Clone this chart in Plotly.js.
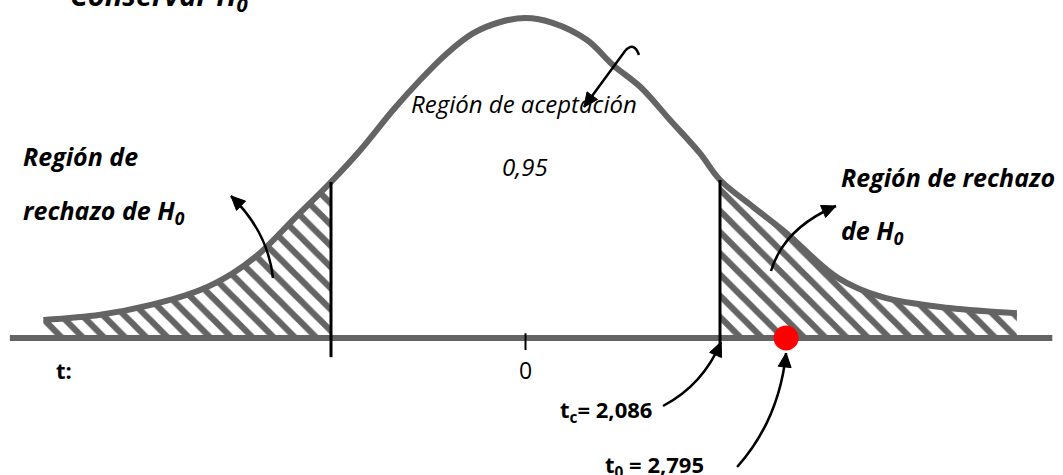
<!DOCTYPE html>
<html>
<head>
<meta charset="utf-8">
<script src="https://cdn.plot.ly/plotly-3.0.1.min.js"></script>
<style>html,body{margin:0;padding:0;background:#fff;}#chart{width:1063px;height:475px;}</style>
</head>
<body>
<div id="chart"></div>
<script>
// ---- data ----
const T_C = 2.086;          // critical value
const T_0 = 2.795;          // observed statistic
const CONF = "0,95";
// sketched density curve (t, height)
const CURVE_T = [-5.17,-4.56,-4.03,-3.49,-3.14,-2.85,-2.49,-2.086,-1.77,-1.42,-1.13,-0.84,-0.56,-0.27,0,0.29,0.66,0.94,1.23,1.55,1.87,2.086,2.44,2.80,3.34,3.83,4.55,5.27];
const CURVE_D = [0.0225,0.029,0.041,0.060,0.081,0.106,0.148,0.195,0.235,0.285,0.3225,0.356,0.381,0.395,0.400,0.394,0.3725,0.341,0.314,0.2725,0.231,0.1975,0.164,0.131,0.076,0.051,0.0375,0.031];
const AXIS_T = [-5.53, 5.65];
const AXIS_D = [0, 0];
const LINE_BOTTOM = -0.024;
const TICK_D = [0.006, -0.015];

// ---- styles ----
const GRAY = '#646464';
const W = 1063, H = 475;

const leftIdx = CURVE_T.map((t,i)=>i).filter(i => CURVE_T[i] <= -T_C);
const rightIdx = CURVE_T.map((t,i)=>i).filter(i => CURVE_T[i] >= T_C);
const dAt = t => CURVE_D[CURVE_T.indexOf(t)];

const hatch = {shape:'\\', fgcolor:GRAY, bgcolor:'white', size:15, solidity:0.42};

const traces = [
  {x: leftIdx.map(i=>CURVE_T[i]), y: leftIdx.map(i=>CURVE_D[i]), type:'scatter', mode:'lines',
   line:{width:0, shape:'spline'}, fill:'tozeroy', fillcolor:'white', fillpattern:hatch, hoverinfo:'skip'},
  {x: rightIdx.map(i=>CURVE_T[i]), y: rightIdx.map(i=>CURVE_D[i]), type:'scatter', mode:'lines',
   line:{width:0, shape:'spline'}, fill:'tozeroy', fillcolor:'white', fillpattern:hatch, hoverinfo:'skip'},
  {x: AXIS_T, y: AXIS_D, type:'scatter', mode:'lines', line:{color:GRAY, width:6}},
  {x: CURVE_T, y: CURVE_D, type:'scatter', mode:'lines', line:{color:GRAY, width:6, shape:'spline', smoothing:1}},
  {x: [-T_C,-T_C], y: [dAt(-T_C), LINE_BOTTOM], type:'scatter', mode:'lines', line:{color:'black', width:3}},
  {x: [T_C,T_C], y: [dAt(T_C), LINE_BOTTOM], type:'scatter', mode:'lines', line:{color:'black', width:3}},
  {x: [0,0], y: TICK_D, type:'scatter', mode:'lines', line:{color:'black', width:2}},
  {x: [T_0], y: [0], type:'scatter', mode:'markers', marker:{color:'#ff0000', size:25}}
];

// ---- arrows (picture pixels, converted either to paper or to pixel offsets from a data anchor) ----
function makeConv(anchor){
  if(!anchor) return (px,py)=>[(px/W).toFixed(5), (1-py/H).toFixed(5)];
  return (px,py)=>[(px-anchor.px).toFixed(2), (anchor.py-py).toFixed(2)];
}
function arrow(segs, anchor){
  const conv = makeConv(anchor);
  let d = '';
  segs.forEach(s=>{
    d += s[0];
    for(let k=1;k<s.length;k+=2){ const c = conv(s[k], s[k+1]); d += ' ' + c[0] + ',' + c[1] + ' '; }
  });
  const last = segs[segs.length-1];
  const prev = segs[segs.length-2];
  const tip = [last[last.length-2], last[last.length-1]];
  const from = last.length >= 5 ? [last[last.length-4], last[last.length-3]] : [prev[prev.length-2], prev[prev.length-1]];
  let ux = tip[0]-from[0], uy = tip[1]-from[1];
  const n = Math.hypot(ux,uy); ux/=n; uy/=n;
  const len = 14, hw = 6.5;
  const bx = tip[0]-ux*len, by = tip[1]-uy*len;
  const b1 = conv(bx - uy*hw, by + ux*hw), b2 = conv(bx + uy*hw, by - ux*hw), tp = conv(tip[0], tip[1]);
  const head = 'M ' + tp.join(',') + ' L ' + b1.join(',') + ' L ' + b2.join(',') + ' Z';
  const base = anchor ? {xref:'x', yref:'y', xsizemode:'pixel', ysizemode:'pixel', xanchor:anchor.x, yanchor:anchor.y}
                      : {xref:'paper', yref:'paper'};
  return [
    Object.assign({type:'path', path:d, line:{color:'black', width:2.5}, fillcolor:'rgba(0,0,0,0)'}, base),
    Object.assign({type:'path', path:head, line:{color:'black', width:1}, fillcolor:'black'}, base)
  ];
}
const shapes = [].concat(
  arrow([['M',639,55],['Q',634,41,625,51],['L',584,107]], null),
  arrow([['M',273,278],['Q',268,232,231,196]], null),
  arrow([['M',771,271],['Q',784,228,836,206]], null),
  arrow([['M',663,406],['Q',703,385,721,342]], {px:720, py:338, x:T_C, y:0}),
  arrow([['M',723,467],['Q',765,420,772,353]], {px:772, py:338, x:T_0, y:0})
);

// ---- labels ----
const BI = {family:'"Open Sans", sans-serif', size:25, color:'black', weight:'bold', style:'italic'};
const B = {family:'"Open Sans", sans-serif', size:22, color:'black', weight:'bold'};
const IT = {family:'"Open Sans", sans-serif', size:24, color:'black', style:'italic'};
const RG = {family:'"Open Sans", sans-serif', size:23, color:'black'};
function lbl(text, px, py, font, ya){
  return {xref:'paper', yref:'paper', x:px/W, y:1-py/H, xanchor:'left', yanchor:ya||'middle', showarrow:false, text:text, font:font};
}
const annotations = [
  lbl('Conservar H<sub>0</sub>', 68, -3, Object.assign({}, BI, {size:29})),
  lbl('Región de', 21, 156, BI),
  lbl('rechazo de H<sub>0</sub>', 21, 211, BI),
  lbl('Región de rechazo', 839, 177, BI),
  lbl('de H<sub>0</sub>', 839, 232, BI),
  lbl('Región de aceptación', 409, 103, IT),
  lbl(CONF, 500, 167, IT),
  lbl('t:', 54, 370, B),
  {xref:'x', yref:'paper', x:0, y:1-370/H, xanchor:'center', yanchor:'middle', showarrow:false, text:'0', font:RG},
  lbl('t<sub>c</sub>= ' + String(T_C).replace('.', ','), 558, 411, B),
  lbl('t<sub>0</sub> = ' + String(T_0).replace('.', ','), 603, 466, B)
];

const layout = {
  width:W, height:H, margin:{l:0, r:0, t:0, b:0},
  paper_bgcolor:'white', plot_bgcolor:'white', showlegend:false,
  xaxis:{range:[-525.5/93.24, 537.5/93.24], visible:false, fixedrange:true},
  yaxis:{range:[(338-475)*0.00125, 338*0.00125], visible:false, fixedrange:true},
  shapes:shapes, annotations:annotations
};
Plotly.newPlot('chart', traces, layout, {staticPlot:true});
</script>
</body>
</html>
